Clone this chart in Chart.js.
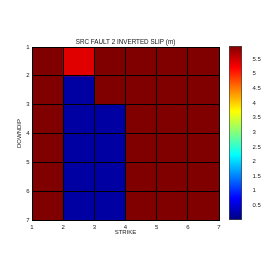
<!DOCTYPE html>
<html>
<head>
<meta charset="utf-8">
<script src="https://cdn.jsdelivr.net/npm/chart.js@4.4.1/dist/chart.umd.min.js"></script>
<style>
  html, body { margin: 0; padding: 0; background: #fff; }
  #wrap { position: relative; width: 274px; height: 274px; }
  canvas { position: absolute; left: 0; top: 0; }
</style>
</head>
<body>
<div id="wrap">
  <canvas id="slip" width="274" height="274"></canvas>
  <canvas id="cbar" width="274" height="274"></canvas>
</div>
<script>
// cell edges along strike / downdip
const strikeTicks = [1, 2, 3, 4, 5, 6, 7];
const downdipTicks = [1, 2, 3, 4, 5, 6, 7];

// slip per cell (m), one row per downdip cell, top row first
const slipRow1 = [5.95, 5.38, 5.95, 5.95, 5.95, 5.95];
const slipRow2 = [5.95, 0.20, 5.95, 5.95, 5.95, 5.95];
const slipRow3 = [5.95, 0.20, 0.20, 5.95, 5.95, 5.95];
const slipRow4 = [5.95, 0.20, 0.20, 5.95, 5.95, 5.95];
const slipRow5 = [5.95, 0.20, 0.20, 5.95, 5.95, 5.95];
const slipRow6 = [5.95, 0.20, 0.20, 5.95, 5.95, 5.95];
const slipRows = [slipRow1, slipRow2, slipRow3, slipRow4, slipRow5, slipRow6];

// colour bar
const cbarTicks = [0.5, 1, 1.5, 2, 2.5, 3, 3.5, 4, 4.5, 5, 5.5];
const slipMin = 0;
const slipMax = 5.95;

Chart.defaults.font.family = "'Liberation Sans', Arial, sans-serif";
Chart.defaults.font.size = 6;
Chart.defaults.color = '#222';

// matlab jet colormap
function jet(t) {
  const c = v => Math.round(255 * Math.max(0, Math.min(1, v)));
  const r = c(1.5 - Math.abs(4 * t - 3));
  const g = c(1.5 - Math.abs(4 * t - 2));
  const b = c(1.5 - Math.abs(4 * t - 1));
  return 'rgb(' + r + ',' + g + ',' + b + ')';
}
const slipColor = v => jet((v - slipMin) / (slipMax - slipMin));

// one floating-bar dataset per downdip row
const rowSets = slipRows.map((row, r) => ({
  data: row.map((v, c) => ({ x: strikeTicks[c] + 0.5, y: [downdipTicks[r], downdipTicks[r + 1]] })),
  backgroundColor: row.map(slipColor),
  borderWidth: 0,
  barPercentage: 1,
  categoryPercentage: 1,
  grouped: false
}));

const slipChart = new Chart(document.getElementById('slip'), {
  type: 'bar',
  data: { datasets: rowSets },
  options: {
    responsive: false,
    animation: false,
    layout: { padding: { left: 14, right: 55, top: 0, bottom: 34 } },
    plugins: {
      legend: { display: false },
      tooltip: { enabled: false }
    },
    scales: {
      x: {
        type: 'linear',
        min: 1,
        max: 7,
        offset: false,
        afterBuildTicks: s => { s.ticks = strikeTicks.map(v => ({ value: v })); },
        afterFit: s => { s.height = 20; },
        ticks: { padding: 3.5 },
        grid: { color: '#000', lineWidth: 1, drawTicks: false, offset: false, z: 1 },
        border: { color: '#000', z: 1 },
        title: { display: true, text: 'STRIKE', color: '#222', padding: { top: 0, bottom: 4 } }
      },
      // top axis only carries the chart title, centred over the plot
      top: {
        type: 'linear',
        position: 'top',
        min: 1,
        max: 7,
        afterFit: s => { s.height = 47; },
        ticks: { display: false },
        grid: { display: false },
        border: { display: false },
        title: {
          display: true,
          text: 'SRC FAULT 2 INVERTED SLIP (m)',
          color: '#111',
          font: { size: 6.3 },
          padding: { top: 38.5, bottom: 0 }
        }
      },
      y: {
        type: 'linear',
        min: 1,
        max: 7,
        reverse: true,
        afterBuildTicks: s => { s.ticks = downdipTicks.map(v => ({ value: v })); },
        afterFit: s => { s.width = 18; },
        ticks: { padding: 2.5 },
        grid: { color: '#000', lineWidth: 1, drawTicks: false, offset: false, z: 1 },
        border: { color: '#000', z: 1 },
        title: { display: true, text: 'DOWNDIP', color: '#222', padding: { top: 2, bottom: 0 } }
      }
    }
  }
});

// colour bar drawn as one floating bar with a jet gradient
function cbarFill(context) {
  const chart = context.chart;
  if (!chart.chartArea) return null;
  const y = chart.scales.y;
  const g = chart.ctx.createLinearGradient(0, y.getPixelForValue(slipMin), 0, y.getPixelForValue(slipMax));
  [0, 1 / 8, 3 / 8, 5 / 8, 7 / 8, 1].forEach(t => g.addColorStop(t, jet(t)));
  return g;
}

const cbarChart = new Chart(document.getElementById('cbar'), {
  type: 'bar',
  data: {
    labels: [''],
    datasets: [{
      data: [[slipMin, slipMax]],
      backgroundColor: cbarFill,
      borderColor: '#444',
      borderWidth: 1,
      borderSkipped: false,
      barPercentage: 1,
      categoryPercentage: 1
    }]
  },
  options: {
    responsive: false,
    animation: false,
    layout: { padding: { left: 229, right: 2, top: 46, bottom: 54 } },
    plugins: { legend: { display: false }, tooltip: { enabled: false } },
    scales: {
      x: { display: false },
      y: {
        position: 'right',
        min: slipMin,
        max: slipMax,
        afterBuildTicks: s => { s.ticks = cbarTicks.map(v => ({ value: v })); },
        afterFit: s => { s.width = 30; },
        ticks: { padding: 2.5, callback: v => String(v) },
        grid: { display: false },
        border: { display: false }
      }
    }
  }
});
</script>
</body>
</html>
